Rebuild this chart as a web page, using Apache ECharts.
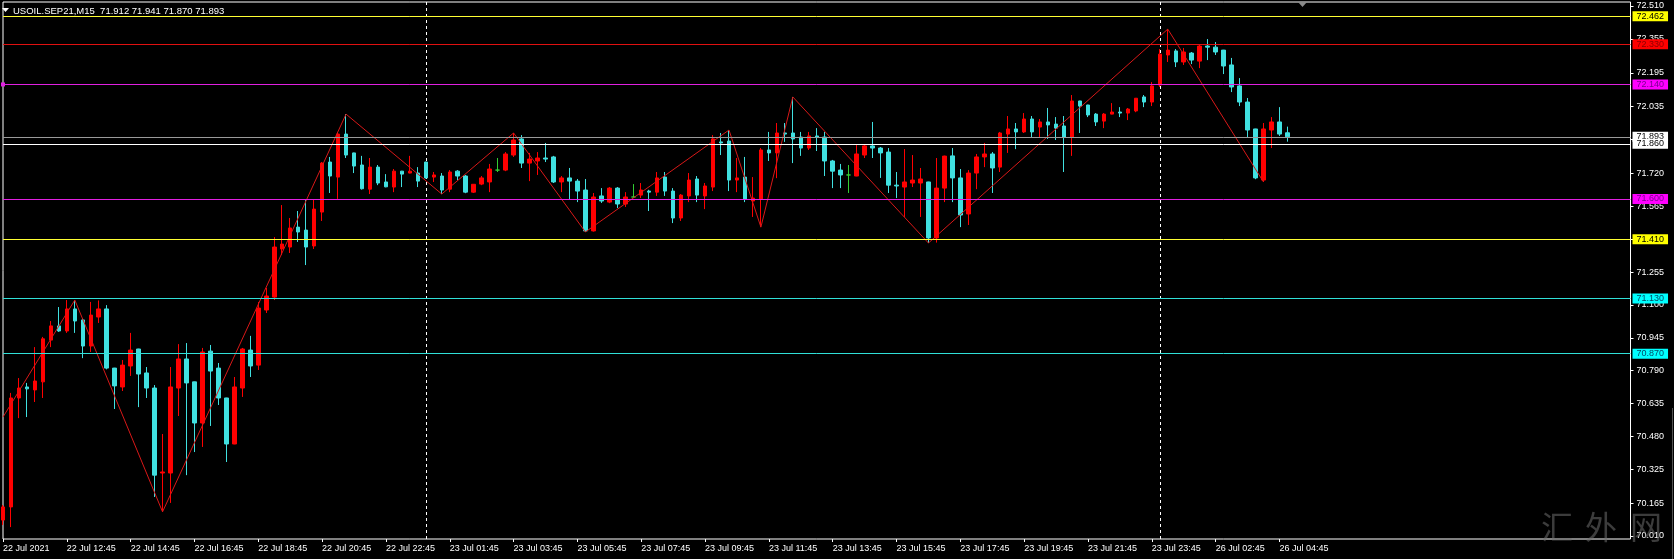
<!DOCTYPE html>
<html><head><meta charset="utf-8">
<script src="https://cdn.jsdelivr.net/npm/echarts@6/dist/echarts.min.js"></script>
<style>html,body{margin:0;padding:0;background:#000;}#c{width:1674px;height:559px;}</style>
</head><body><div id="c"></div>
<script>
// ---------- DATA ----------
const symbolName = 'USOIL.SEP21,M15';
const opens = [70.085,70.147,70.661,70.713,70.699,70.737,70.934,71.001,70.977,71.081,
71.029,70.906,71.043,71.081,70.802,70.713,70.812,70.892,70.779,70.708,
70.307,70.307,70.708,70.845,70.737,70.543,70.882,70.802,70.661,70.444,
70.708,70.887,70.816,71.076,71.137,71.364,71.373,71.467,71.453,71.378,
71.538,71.774,71.703,71.906,71.817,71.760,71.646,71.750,71.680,71.656,
71.731,71.722,71.722,71.774,71.703,71.708,71.646,71.731,71.708,71.632,
71.670,71.680,71.736,71.736,71.807,71.883,71.769,71.779,71.793,71.798,
71.680,71.699,71.684,71.642,71.449,71.614,71.585,71.651,71.576,71.609,
71.618,71.637,71.632,71.703,71.637,71.510,71.614,71.694,71.614,71.656,
71.869,71.873,71.689,71.703,71.590,71.600,71.831,71.817,71.911,71.911,
71.892,71.840,71.897,71.892,71.779,71.736,71.713,71.708,71.807,71.850,
71.840,71.821,71.665,71.656,71.675,71.675,71.680,71.416,71.651,71.803,
71.699,71.529,71.722,71.798,71.812,71.750,71.906,71.930,71.916,71.977,
71.939,71.963,71.953,71.944,71.892,72.062,72.043,72.000,71.967,72.000,
72.010,72.005,72.015,72.081,72.057,72.137,72.279,72.298,72.246,72.288,
72.250,72.321,72.316,72.302,72.232,72.133,72.057,71.930,71.689,71.925,
71.963,71.912];
const highs = [70.156,70.685,70.755,70.732,70.901,70.949,71.024,71.090,71.123,71.123,
71.038,71.114,71.121,71.099,70.803,70.840,70.968,70.893,70.807,70.722,
70.491,70.807,70.915,70.920,70.738,70.897,70.911,70.826,70.662,70.760,
70.897,70.954,71.114,71.180,71.420,71.571,71.510,71.543,71.595,71.595,
71.774,71.798,71.916,72.000,71.818,71.803,71.793,71.760,71.717,71.741,
71.732,71.803,71.750,71.775,71.727,71.722,71.736,71.736,71.713,71.670,
71.708,71.765,71.793,71.821,71.911,71.901,71.817,71.821,71.864,71.803,
71.708,71.746,71.694,71.694,71.628,71.651,71.656,71.656,71.632,71.670,
71.675,71.643,71.727,71.727,71.651,71.623,71.722,71.708,71.675,71.901,
71.911,71.925,71.793,71.798,71.703,71.840,71.916,71.958,71.958,72.081,
71.916,71.916,71.934,71.916,71.784,71.765,71.760,71.854,71.854,71.963,
71.845,71.840,71.727,71.835,71.807,71.746,71.681,71.793,71.804,71.840,
71.741,71.736,71.812,71.864,71.821,71.916,71.991,71.958,72.005,71.991,
71.977,72.029,71.986,71.991,72.090,72.063,72.044,72.005,72.005,72.052,
72.033,72.029,72.076,72.090,72.151,72.307,72.401,72.307,72.312,72.293,
72.326,72.354,72.340,72.303,72.265,72.170,72.076,71.931,71.958,71.986,
72.033,71.941];
const lows = [70.062,70.052,70.566,70.571,70.642,70.661,70.901,70.973,70.968,70.968,
70.849,70.878,71.015,70.796,70.609,70.694,70.765,70.618,70.661,70.194,
70.124,70.166,70.576,70.297,70.406,70.430,70.529,70.628,70.359,70.443,
70.666,70.760,70.793,71.062,71.123,71.335,71.345,71.397,71.288,71.364,
71.496,71.628,71.600,71.793,71.722,71.644,71.623,71.665,71.655,71.632,
71.656,71.721,71.656,71.697,71.680,71.623,71.632,71.689,71.627,71.628,
71.665,71.632,71.727,71.731,71.798,71.746,71.684,71.713,71.774,71.675,
71.632,71.595,71.585,71.444,71.446,71.581,71.580,71.557,71.562,71.604,
71.604,71.543,71.614,71.614,71.486,71.496,71.585,71.585,71.552,71.637,
71.807,71.637,71.632,71.585,71.515,71.467,71.779,71.698,71.869,71.769,
71.803,71.831,71.826,71.708,71.651,71.651,71.628,71.707,71.793,71.793,
71.699,71.628,71.604,71.515,71.656,71.515,71.392,71.394,71.585,71.585,
71.467,71.477,71.646,71.750,71.628,71.727,71.817,71.835,71.911,71.892,
71.892,71.883,71.878,71.727,71.803,71.911,71.986,71.944,71.934,71.999,
71.986,71.972,72.009,72.033,72.038,72.128,72.246,72.222,72.232,72.236,
72.217,72.255,72.279,72.189,72.104,72.038,71.892,71.693,71.680,71.840,
71.897,71.870];
const closes = [70.147,70.661,70.708,70.704,70.741,70.940,71.001,70.977,71.081,71.024,
70.906,71.052,71.081,70.802,70.718,70.816,70.887,70.774,70.708,70.297,
70.312,70.713,70.845,70.732,70.543,70.878,70.788,70.661,70.444,70.713,
70.892,70.812,71.085,71.142,71.373,71.387,71.463,71.444,71.373,71.552,
71.769,71.708,71.906,71.807,71.755,71.648,71.750,71.675,71.657,71.731,
71.717,71.731,71.684,71.699,71.713,71.642,71.727,71.708,71.632,71.669,
71.699,71.741,71.736,71.812,71.878,71.769,71.788,71.793,71.788,71.680,
71.699,71.684,71.637,71.449,71.609,71.590,71.651,71.576,71.609,71.609,
71.642,71.632,71.699,71.637,71.510,71.618,71.689,71.618,71.661,71.883,
71.864,71.689,71.699,71.600,71.604,71.831,71.817,71.911,71.906,71.883,
71.840,71.897,71.892,71.779,71.731,71.713,71.713,71.812,71.850,71.840,
71.817,71.665,71.661,71.680,71.689,71.694,71.416,71.651,71.802,71.699,
71.524,71.722,71.798,71.812,71.746,71.911,71.930,71.916,71.977,71.916,
71.963,71.949,71.934,71.892,72.062,72.038,71.996,71.963,72.000,72.010,
72.005,72.024,72.075,72.057,72.133,72.283,72.302,72.246,72.293,72.255,
72.321,72.316,72.293,72.227,72.128,72.057,71.925,71.699,71.930,71.963,
71.906,71.893];

// ZigZag pivots (bar index, price)
const zigIdx = [0, 9, 20, 43, 55, 64, 73, 91, 95, 99, 116, 146, 158];
const zigVal = [70.571, 71.123, 70.124, 72.000, 71.623, 71.911, 71.444, 71.925, 71.467, 72.081, 71.392, 72.401, 71.680];

// Horizontal levels
const levelValues = [72.462, 72.330, 72.140, 71.893, 71.860, 71.600, 71.410, 71.130, 70.870];

// Axis tick labels
const yTickValues = [72.510, 72.355, 72.195, 72.035, 71.880, 71.720, 71.565, 71.410, 71.255, 71.100, 70.945, 70.790, 70.635, 70.480, 70.325, 70.165, 70.010];
const xTickLabels = ['22 Jul 2021','22 Jul 12:45','22 Jul 14:45','22 Jul 16:45','22 Jul 18:45','22 Jul 20:45','22 Jul 22:45','23 Jul 01:45','23 Jul 03:45','23 Jul 05:45','23 Jul 07:45','23 Jul 09:45','23 Jul 11:45','23 Jul 13:45','23 Jul 15:45','23 Jul 17:45','23 Jul 19:45','23 Jul 21:45','23 Jul 23:45','26 Jul 02:45','26 Jul 04:45'];
const daySeparatorIdx = [53, 145];
const barsPerLabel = 8;
const totalSlots = 205;   // bars + empty space on the right (chart shift)

// ---------- STYLES ----------
const levelLineColors = ['#ffff33','#e01010','#e020e0','#9a9a9a','#ffffff','#e020e0','#ffff33','#30e0d8','#30e0d8'];
const levelBoxColors  = ['#ffff00','#ff0000','#ff00ff','#ffffff','#ffffff','#ff00ff','#ffff00','#00ffff','#00ffff'];
const levelTextColors = ['#000000','#8a0000','#7a0090','#000000','#000000','#7a0090','#000000','#004a66','#004a66'];
const UP = '#ff0000', DOWN = '#40e0e0', DOJI = '#32cd32';
const FONT = 'Liberation Sans';

// ---------- BUILD ----------
const cats = [];
for (let i = 0; i < totalSlots; i++) cats.push(String(i));
const candleData = opens.map((o, i) => [o, closes[i], lows[i], highs[i]]);
const zigData = zigIdx.map((x, k) => [String(x), zigVal[k]]);
const tickFn = (idx) => idx % barsPerLabel === 0 && idx / barsPerLabel < xTickLabels.length;
const n = opens.length - 1;
const titleText = symbolName + '  ' + [opens[n], highs[n], lows[n], closes[n]].map(v => v.toFixed(3)).join(' ');

const levelMarks = levelValues.map((v, k) => {
  const item = {
    yAxis: v,
    lineStyle: { color: levelLineColors[k], width: 1, type: 'solid' },
    label: {
      show: true, position: 'end', formatter: v.toFixed(3),
      backgroundColor: levelBoxColors[k], color: levelTextColors[k],
      padding: [1, 4, 0, 4], fontSize: 9, lineHeight: 9, fontFamily: FONT, distance: 2
    }
  };
  if (k === 2) { item.symbol = ['rect', 'rect']; item.symbolSize = 4; }
  return item;
});

const chart = echarts.init(document.getElementById('c'), null, { renderer: 'canvas', width: 1674, height: 559 });
chart.setOption({
  backgroundColor: '#000000',
  animation: false,
  grid: { left: -1.5, right: 43.5, top: 2, bottom: 20, show: true, borderColor: '#ffffff', borderWidth: 1, backgroundColor: 'transparent' },
  xAxis: {
    type: 'category', data: cats, boundaryGap: false,
    axisLine: { show: false },
    axisTick: { show: true, interval: tickFn, length: 3, lineStyle: { color: '#ffffff' } },
    axisLabel: {
      interval: tickFn,
      formatter: (v, i) => xTickLabels[Math.round(Number(v) / barsPerLabel)] || '',
      align: 'left', color: '#ffffff', fontSize: 9, fontFamily: FONT, margin: 5
    },
    splitLine: { show: false }
  },
  yAxis: {
    type: 'value', position: 'right', min: 69.9958, max: 72.5289, scale: true,
    splitLine: { show: false }, axisLine: { show: false },
    axisTick: { show: true, customValues: yTickValues, length: 3, lineStyle: { color: '#ffffff' } },
    axisLabel: { customValues: yTickValues, formatter: v => Number(v).toFixed(3), color: '#ffffff', fontSize: 9, fontFamily: FONT, margin: 6 }
  },
  series: [
    {
      type: 'candlestick', data: candleData, barWidth: 4, z: 3,
      itemStyle: { color: UP, color0: DOWN, borderColor: UP, borderColor0: DOWN, borderColorDoji: DOJI, borderWidth: 1 },
      markLine: {
        silent: true, symbol: 'none', animation: false, z: 1,
        lineStyle: { color: '#ffffff', type: [3, 3], width: 1 },
        label: { show: false },
        data: daySeparatorIdx.map(i => ({ xAxis: String(i) }))
      }
    },
    {
      type: 'line', data: zigData, symbol: 'none', z: 4,
      lineStyle: { color: '#d81818', width: 1 },
      markLine: {
        silent: true, symbol: 'none', animation: false, precision: 3,
        data: levelMarks
      }
    }
  ],
  graphic: [
    { type: 'polygon', shape: { points: [[2, 8], [9, 8], [5.5, 12]] }, style: { fill: '#ffffff' } },
    { type: 'text', x: 13, y: 11, style: { text: titleText, fill: '#ffffff', font: '9.5px "Liberation Sans"', verticalAlign: 'middle' } },
    { type: 'polygon', shape: { points: [[1298, 2], [1307, 2], [1302.5, 7]] }, style: { fill: '#8a8a8a' } },
    { type: 'line', shape: { x1: 1672.5, y1: 408, x2: 1672.5, y2: 559 }, style: { stroke: '#505050', lineWidth: 1 } },
    { type: 'text', x: 1557, y: 527, z: 100, style: { text: '汇', fill: 'rgba(110,110,110,0.55)', font: '32px "Noto Sans CJK SC"', align: 'center', verticalAlign: 'middle' } },
    { type: 'text', x: 1601, y: 527, z: 100, style: { text: '外', fill: 'rgba(110,110,110,0.55)', font: '32px "Noto Sans CJK SC"', align: 'center', verticalAlign: 'middle' } },
    { type: 'text', x: 1646, y: 527, z: 100, style: { text: '网', fill: 'rgba(110,110,110,0.55)', font: '32px "Noto Sans CJK SC"', align: 'center', verticalAlign: 'middle' } }
  ]
});
</script>
</body></html>
